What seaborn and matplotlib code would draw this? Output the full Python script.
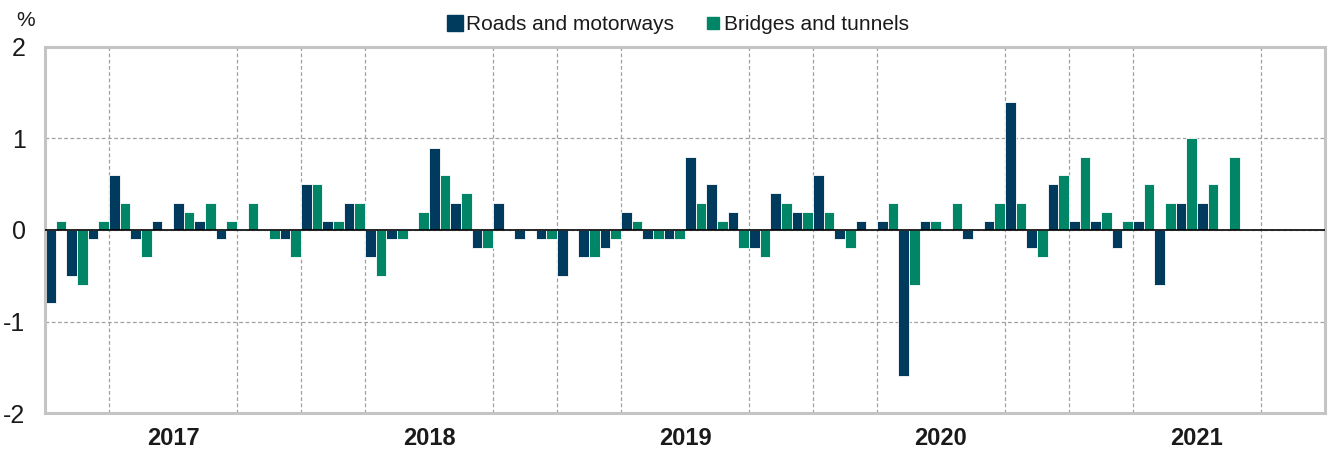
import matplotlib
matplotlib.use("Agg")
import matplotlib.pyplot as plt
from matplotlib.lines import Line2D
import numpy as np
import pandas as pd
import seaborn as sns

# Monthly changes, Jan 2017 - Dec 2021 (%)
years = ["2017", "2018", "2019", "2020", "2021"]
roads = [
    -0.8, -0.5, -0.1, 0.6, -0.1, 0.1, 0.3, 0.1, -0.1, 0.0, 0.0, -0.1,
    0.5, 0.1, 0.3, -0.3, -0.1, 0.0, 0.9, 0.3, -0.2, 0.3, -0.1, -0.1,
    -0.5, -0.3, -0.2, 0.2, -0.1, -0.1, 0.8, 0.5, 0.2, -0.2, 0.4, 0.2,
    0.6, -0.1, 0.1, 0.1, -1.6, 0.1, 0.0, -0.1, 0.1, 1.4, -0.2, 0.5,
    0.1, 0.1, -0.2, 0.1, -0.6, 0.3, 0.3, 0.0, 0.0, 0.0, 0.0, 0.0,
]
bridges = [
    0.1, -0.6, 0.1, 0.3, -0.3, 0.0, 0.2, 0.3, 0.1, 0.3, -0.1, -0.3,
    0.5, 0.1, 0.3, -0.5, -0.1, 0.2, 0.6, 0.4, -0.2, 0.0, 0.0, -0.1,
    0.0, -0.3, -0.1, 0.1, -0.1, -0.1, 0.3, 0.1, -0.2, -0.3, 0.3, 0.2,
    0.2, -0.2, 0.0, 0.3, -0.6, 0.1, 0.3, 0.0, 0.3, 0.3, -0.3, 0.6,
    0.8, 0.2, 0.1, 0.5, 0.3, 1.0, 0.5, 0.8, 0.0, 0.0, 0.0, 0.0,
]
series_names = ["Roads and motorways", "Bridges and tunnels"]
colors = ["#003A5C", "#008566"]

n = len(roads)
df = pd.DataFrame({
    "month": list(range(n)) * 2,
    "value": roads + bridges,
    "series": [series_names[0]] * n + [series_names[1]] * n,
})

sns.set_style("white")
plt.rcParams["font.family"] = ["Liberation Sans", "DejaVu Sans"]

fig = plt.figure(figsize=(13.3, 4.54), dpi=100)
ax = fig.add_axes([0.0338, 0.0903, 0.9624, 0.8062])

sns.barplot(
    data=df, x="month", y="value", hue="series",
    palette=colors, saturation=1, width=1.0, dodge=True,
    edgecolor="white", linewidth=0.6, ax=ax, legend=False,
)

ax.set_xlim(-0.5, n - 0.5)
ax.set_ylim(-2, 2)

# quarter gridlines, year labels centred on each year
ax.set_xticks(np.arange(-0.5, n, 3), minor=True)
ax.set_xticks([12 * i + 5.5 for i in range(len(years))])
ax.set_xticklabels(years, fontsize=17, fontweight="bold", color="#1a1a1a")
ax.tick_params(axis="x", which="both", length=0, pad=10)
ax.grid(axis="x", which="minor", color="#A0A0A0", linestyle=(0, (3, 2)), linewidth=0.9)

ax.set_yticks([-2, -1, 0, 1, 2])
ax.set_yticklabels(["-2", "-1", "0", "1", "2"], fontsize=18, color="#1a1a1a")
ax.tick_params(axis="y", length=0, pad=14)
ax.grid(axis="y", which="major", color="#A0A0A0", linestyle=(0, (3, 2)), linewidth=0.9)
ax.set_axisbelow(True)
ax.axhline(0, color="black", linewidth=1.2, zorder=3)

ax.set_xlabel("")
ax.set_ylabel("")
for spine in ax.spines.values():
    spine.set_visible(True)
    spine.set_color("#C4C4C4")
    spine.set_linewidth(2.2)

fig.text(0.012, 0.955, "%", fontsize=15, ha="left", va="center", color="#1a1a1a")

handles = [
    Line2D([], [], marker="s", linestyle="", color=colors[0], markersize=11),
    Line2D([], [], marker="s", linestyle="", color=colors[1], markersize=8),
]
fig.legend(
    handles, series_names, loc="center", bbox_to_anchor=(0.509, 0.945),
    ncol=2, frameon=False, fontsize=15, handletextpad=0.0,
    columnspacing=1.4, handlelength=1.0, labelcolor="#1a1a1a",
)

plt.savefig("out.png", dpi=100)
plt.close()
